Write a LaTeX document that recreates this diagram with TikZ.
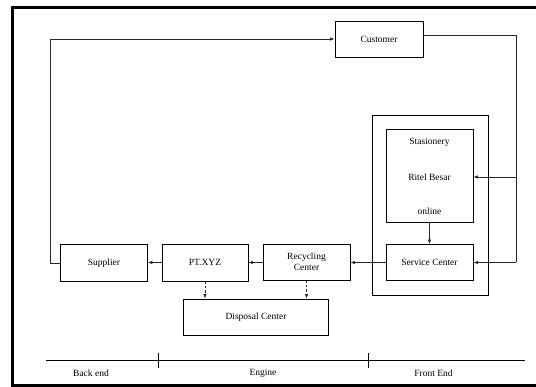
\documentclass[tikz,border=0pt]{standalone}
\usepackage{fontspec}
\setmainfont{Liberation Serif}
\usetikzlibrary{arrows.meta,calc}
\begin{document}
\begin{tikzpicture}[x=1pt,y=-1pt,
  box/.style={draw=black,line width=0.8pt,inner sep=1pt,align=center,font=\fontsize{9.5}{11}\selectfont},
  lbl/.style={inner sep=0pt,font=\fontsize{9.5}{11}\selectfont},
  conn/.style={draw=black!85,line width=0.8pt,-{Latex[length=4.5pt,width=3.5pt]}},
  dconn/.style={conn,dashed,dash pattern=on 2.5pt off 2pt},
  frame/.style={draw=black,line width=3pt}]
\useasboundingbox (0,0) rectangle (536,387);
\draw[frame] (12,8) rectangle (548,385.5);
% nodes
\node[box,minimum width=88,minimum height=36] (cust) at (379,39) {Customer};
\node[box,minimum width=116,minimum height=180] (grp) at (430,205) {};
\node[box,minimum width=87,minimum height=93] (store) at (429.5,175.5) {};
\node[lbl] (t1) at (429.5,142) {Stasionery};
\node[lbl] (t2) at (429.5,177) {Ritel Besar};
\node[lbl] (t3) at (429.5,211) {online};
\node[box,minimum width=87,minimum height=36] (svc) at (429.5,262.5) {Service Center};
\node[box,minimum width=87,minimum height=36] (rec) at (306.5,262) {Recycling\\Center};
\node[box,minimum width=86,minimum height=37] (pt) at (205,262.5) {PT.XYZ};
\node[box,minimum width=87,minimum height=37] (sup) at (104,263) {Supplier};
\node[box,minimum width=145,minimum height=36] (disp) at (256,317) {Disposal Center};
% connectors
\coordinate (rr) at (516,35);
\coordinate (ll) at (50,39);
\draw[draw=black!85,line width=0.8pt] ([yshift=4pt]cust.east) -- (rr) -- (rr |- svc.east);
\draw[conn] (rr |- t2) -- (store.east |- t2);
\draw[conn] (rr |- svc.east) -- (svc.east);
\draw[conn] (store.south) -- (svc.north);
\draw[conn] (svc.west) -- (rec.east |- svc.west);
\draw[conn] (rec.west |- pt.east) -- (pt.east);
\draw[conn] (pt.west) -- (sup.east |- pt.west);
\draw[conn] (sup.west) -- (ll |- sup.west) -- (ll) -- (cust.west);
\draw[dconn] (pt.south) -- (pt.south |- disp.north);
\draw[dconn] (rec.south) -- (rec.south |- disp.north);
% timeline
\coordinate (a) at (46,360.5);
\coordinate (b) at (525,360.5);
\coordinate (k1) at (158,353);
\coordinate (k2) at (368,353);
\draw[line width=0.8pt] (a) -- (b);
\draw[line width=0.8pt] (k1) -- ++(0,15);
\draw[line width=0.8pt] (k2) -- ++(0,15);
\node[lbl] (be) at (91,373) {Back end};
\node[lbl] (en) at (263,373) {Engine};
\node[lbl] (fe) at (433.5,373) {Front End};
\end{tikzpicture}
\end{document}
